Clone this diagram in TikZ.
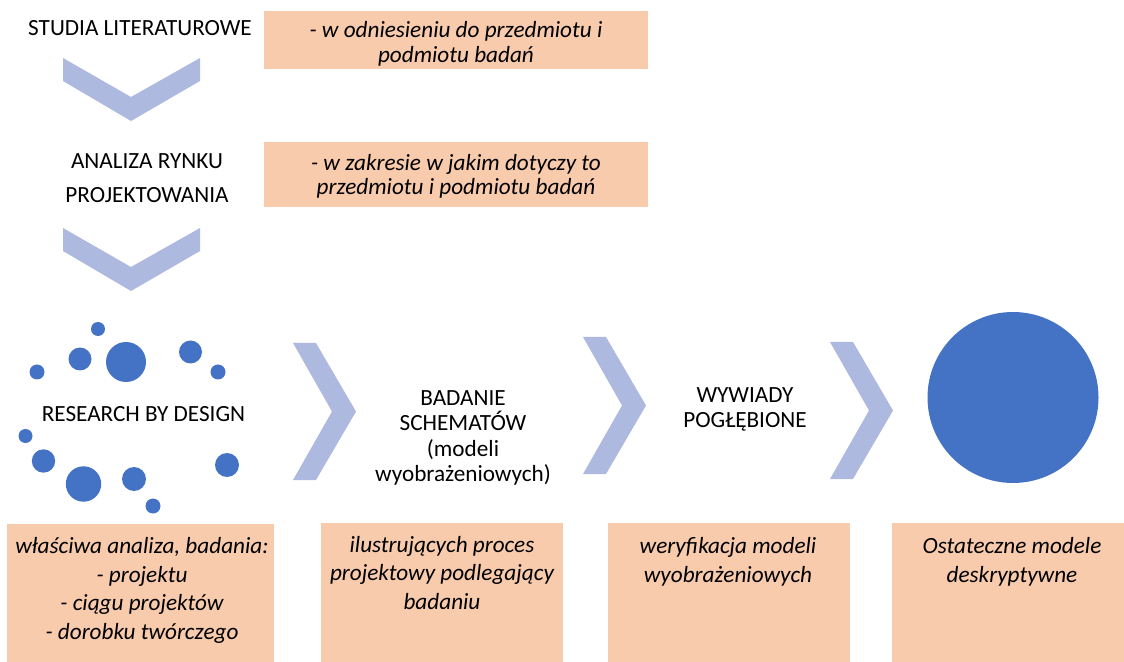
\documentclass[tikz,border=0pt]{standalone}
\usepackage{fontspec}
\setmainfont{Carlito}
\usetikzlibrary{positioning}
\definecolor{PeachBox}{RGB}{248,203,173}
\definecolor{ChevronBlue}{RGB}{173,185,222}
\definecolor{DotBlue}{RGB}{68,114,196}

\begin{document}
\begin{tikzpicture}[x=0.5pt,y=-0.5pt,
    steplabel/.style={font=\fontsize{11.6}{12.7}\selectfont,align=center,inner sep=0pt,anchor=base},
    notelabel/.style={font=\fontsize{11.6}{14.2}\selectfont\itshape,align=center,inner sep=0pt,anchor=base}]
  \useasboundingbox (0,0) rectangle (1124,662);
  % peach boxes
  \foreach \xa/\ya/\xb/\yb in {264/11/648/69,264/142/648/207,7/524/274/662,321/523/563/662,608/523/850/662,892/523/1124/662}
    \fill[PeachBox] (\xa,\ya) rectangle (\xb,\yb);
  % chevrons down
  \foreach \y in {58,228}
    \fill[ChevronBlue] (63,\y)--(131,\y+39)--(200,\y)--(200,\y+23)--(131,\y+63)--(63,\y+23)--cycle;
  % chevrons right
  \foreach \x/\y in {293/343,583/337,830/342}
    \fill[ChevronBlue] (\x,\y)--(\x+23,\y)--(\x+63,\y+68.5)--(\x+23,\y+137)--(\x,\y+137)--(\x+39,\y+68.5)--cycle;
  % dots round research by design
  \foreach \x/\y/\r in {98/329/7,80/359/11.5,126/362/20,190.5/352/11.5,218/372/7.5,37/372/7.5,
                        25.5/436/7,43.5/461/11.7,83.5/484/17.7,134/479/12,153/506/7.5,227/465/12}
    \fill[DotBlue] (\x,\y) circle (\r);
  \fill[DotBlue] (1013,397.5) circle (85.5);
  % labels (base = last line)
  \node[steplabel] (studia) at (140,36) {STUDIA LITERATUROWE};
  \node[steplabel,font=\fontsize{11.6}{17}\selectfont] (rynek) at (147,203) {ANALIZA RYNKU\\PROJEKTOWANIA};
  \node[steplabel] (rbd) at (143.5,421.5) {RESEARCH BY DESIGN};
  \node[steplabel] (schematy) at (463,481.5) {BADANIE\\SCHEMAT\'OW\\(modeli\\wyobrażeniowych)};
  \node[steplabel] (wywiady) at (745,428) {WYWIADY\\POGŁĘBIONE};
  % notes in boxes
  \node[notelabel,font=\fontsize{11.6}{12.3}\selectfont\itshape] (uwaga1) at (456,62.3) {- w odniesieniu do przedmiotu i\\podmiotu badań};
  \node[notelabel,font=\fontsize{11.6}{12.3}\selectfont\itshape] (uwaga2) at (456,195) {- w zakresie w jakim dotyczy to\\przedmiotu i podmiotu badań};
  \node[notelabel] (uwaga3) at (142,639) {właściwa analiza, badania:\\- projektu\\- ciągu projektów\\- dorobku twórczego};
  \node[notelabel] (uwaga4) at (442,609) {ilustrujących proces\\projektowy podlegający\\badaniu};
  \node[notelabel] (uwaga5) at (728,582) {weryfikacja modeli\\wyobrażeniowych};
  \node[notelabel] (uwaga6) at (1012,582) {Ostateczne modele\\deskryptywne};
\end{tikzpicture}
\end{document}
